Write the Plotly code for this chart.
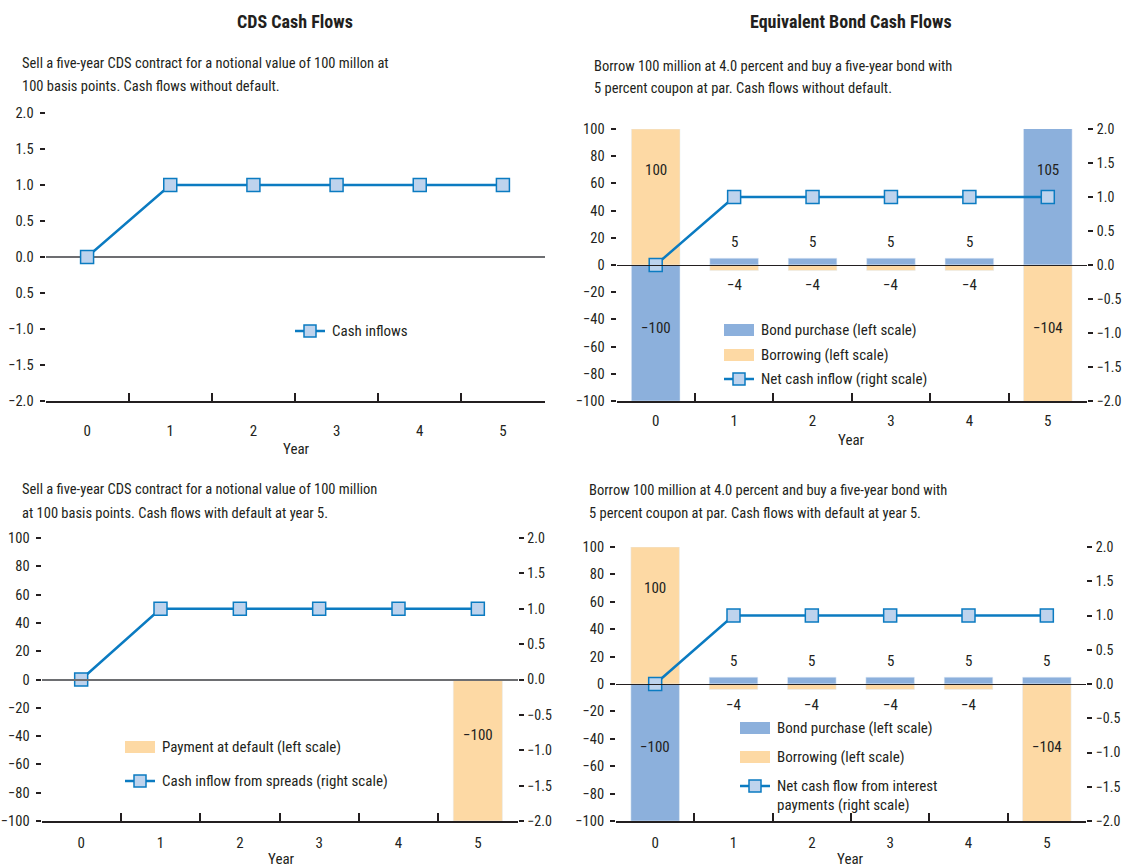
import plotly.graph_objects as go

W, H = 1123, 867
FONT = "Liberation Sans Narrow, Roboto Condensed, DejaVu Sans Condensed, Arial Narrow, sans-serif"
INK = "#231f20"
BLUE_BAR = "#8cb0dc"
ORANGE_BAR = "#fdd9a4"
LINE = "#0b7bc1"
MARKER_FILL = "#bed3ed"

# ---- data ----
years = ["0", "1", "2", "3", "4", "5"]

# CDS cash flows without default
cds_inflows = [0, 1, 1, 1, 1, 1]

# Bond cash flows without default
bond_purchase = [-100, 5, 5, 5, 5, 105]
borrowing = [100, -4, -4, -4, -4, -104]
net_cash_inflow = [0, 1, 1, 1, 1, 1]

# CDS cash flows with default at year 5
payment_at_default = [0, 0, 0, 0, 0, -100]
spread_inflow = [0, 1, 1, 1, 1, 1]

# Bond cash flows with default at year 5
bond_purchase_d = [-100, 5, 5, 5, 5, 5]
borrowing_d = [100, -4, -4, -4, -4, -104]
net_interest_flow = [0, 1, 1, 1, 1, 1]

# axis ticks
left_vals = [100, 80, 60, 40, 20, 0, -20, -40, -60, -80, -100]
left_text = [str(v).replace("-", "\u2212") for v in left_vals]
ratio_vals = [2.0, 1.5, 1.0, 0.5, 0.0, -0.5, -1.0, -1.5, -2.0]
ratio_text = [f"{v:.1f}".replace("-", "\u2212") for v in ratio_vals]
cds_text = ["2.0", "1.5", "1.0", "0.5", "0.0", "0.5", "\u22121.0", "\u22121.5", "\u22122.0"]


def px(p):
    return p / W


def py(p):
    return 1 - p / H


def fmt(v):
    return str(v).replace("-", "\u2212")


fig = go.Figure()

line_style = dict(color=LINE, width=2.5)
marker_style = dict(symbol="square", size=13, color=MARKER_FILL, line=dict(color=LINE, width=1.5))

# panel 1
fig.add_trace(go.Scatter(x=years, y=cds_inflows, mode="lines+markers", line=line_style,
                         marker=marker_style, xaxis="x", yaxis="y", name="Cash inflows"))
# panel 2
fig.add_trace(go.Bar(x=years, y=bond_purchase, marker_color=BLUE_BAR, xaxis="x2", yaxis="y3",
                     name="Bond purchase (left scale)"))
fig.add_trace(go.Bar(x=years, y=borrowing, marker_color=ORANGE_BAR, xaxis="x2", yaxis="y3",
                     name="Borrowing (left scale)"))
fig.add_trace(go.Scatter(x=years, y=net_cash_inflow, mode="lines+markers", line=line_style,
                         marker=marker_style, xaxis="x2", yaxis="y4", name="Net cash inflow (right scale)"))
# panel 3
fig.add_trace(go.Bar(x=years, y=payment_at_default, marker_color=ORANGE_BAR, xaxis="x3", yaxis="y5",
                     name="Payment at default (left scale)"))
fig.add_trace(go.Scatter(x=years, y=spread_inflow, mode="lines+markers", line=line_style,
                         marker=marker_style, xaxis="x3", yaxis="y6",
                         name="Cash inflow from spreads (right scale)"))
# panel 4
fig.add_trace(go.Bar(x=years, y=bond_purchase_d, marker_color=BLUE_BAR, xaxis="x4", yaxis="y7",
                     name="Bond purchase (left scale)"))
fig.add_trace(go.Bar(x=years, y=borrowing_d, marker_color=ORANGE_BAR, xaxis="x4", yaxis="y7",
                     name="Borrowing (left scale)"))
fig.add_trace(go.Scatter(x=years, y=net_interest_flow, mode="lines+markers", line=line_style,
                         marker=marker_style, xaxis="x4", yaxis="y8",
                         name="Net cash flow from interest payments (right scale)"))

tickfont = dict(family=FONT, size=15, color=INK)
left_tickfont = dict(family=FONT, size=14.5, color=INK)
right_tickfont = dict(family=FONT, size=14, color=INK)

try:
    go.layout.YAxis(zerolinelayer="above traces")
    ZL_ABOVE = dict(zerolinelayer="above traces")
except Exception:
    ZL_ABOVE = {}


def xaxis(domain, anchor, standoff):
    return dict(domain=[px(domain[0]), px(domain[1])], anchor=anchor, type="category",
                range=[-0.5, 5.5], autorange=False, automargin=False,
                tickson="boundaries", ticks="inside", ticklen=8, tickwidth=1.5, tickcolor=INK,
                showline=True, linecolor=INK, linewidth=1.5, showgrid=False, zeroline=False,
                tickfont=tickfont, ticklabelstandoff=standoff, fixedrange=True)


def yaxis(domain, anchor, rng, vals, text, side="left", overlay=None, labels=True,
          zero=False, zcolor=INK, zwidth=1, above=False):
    right = side == "right"
    d = dict(domain=[py(domain[1]), py(domain[0])], anchor=anchor, range=rng, tickmode="array",
             tickvals=vals, ticktext=text, ticks="outside", ticklen=5, tickwidth=1.5,
             tickcolor=INK, showline=False, showgrid=False, zeroline=zero, zerolinecolor=zcolor,
             zerolinewidth=zwidth, side=side, showticklabels=labels,
             tickfont=right_tickfont if right else left_tickfont, ticklabelstandoff=1 if right else 3,
             automargin=False, fixedrange=True)
    if overlay:
        d["overlaying"] = overlay
    if above:
        d.update(ZL_ABOVE)
    return d


P1 = dict(x=(45.5, 544.5), y=(113, 401))
P2 = dict(x=(616.5, 1087), y=(129, 401))
P3 = dict(x=(41.5, 517.5), y=(538, 821))
P4 = dict(x=(616, 1086), y=(547, 821))

fig.update_layout(
    width=W, height=H, margin=dict(l=0, r=0, t=0, b=0, pad=0, autoexpand=False),
    paper_bgcolor="white", plot_bgcolor="white", showlegend=False,
    barmode="relative", bargap=0.38,
    font=dict(family=FONT, size=15, color=INK),
    xaxis=xaxis(P1["x"], "y", 15),
    yaxis=yaxis(P1["y"], "x", [-2, 2], ratio_vals, cds_text, zero=True, zcolor="#6d6e71", zwidth=1.5),
    yaxis2=yaxis(P1["y"], "x", [-2, 2], ratio_vals, cds_text, side="right", overlay="y", labels=False),
    xaxis2=xaxis(P2["x"], "y3", 5),
    yaxis3=yaxis(P2["y"], "x2", [-100, 100], left_vals, left_text, zero=True, above=True),
    yaxis4=yaxis(P2["y"], "x2", [-2, 2], ratio_vals, ratio_text, side="right", overlay="y3"),
    xaxis3=xaxis(P3["x"], "y5", 7),
    yaxis5=yaxis(P3["y"], "x3", [-100, 100], left_vals, left_text, zero=True, zcolor="#6d6e71",
                 zwidth=1.5, above=True),
    yaxis6=yaxis(P3["y"], "x3", [-2, 2], ratio_vals, ratio_text, side="right", overlay="y5"),
    xaxis4=xaxis(P4["x"], "y7", 7),
    yaxis7=yaxis(P4["y"], "x4", [-100, 100], left_vals, left_text, zero=True, above=True),
    yaxis8=yaxis(P4["y"], "x4", [-2, 2], ratio_vals, ratio_text, side="right", overlay="y7"),
)

ann = []
shapes = []


def text(x, y, s, size=15, bold=False, xanchor="left"):
    ann.append(dict(x=px(x), y=py(y), xref="paper", yref="paper", text=f"<b>{s}</b>" if bold else s,
                    showarrow=False, xanchor=xanchor, yanchor="middle",
                    font=dict(family=FONT, size=size, color=INK)))


# headings
text(295, 21, "CDS Cash Flows", size=18, bold=True, xanchor="center")
text(851, 21, "Equivalent Bond Cash Flows", size=18, bold=True, xanchor="center")

# panel descriptions
SUB = 14.5
text(20, 63, "Sell a five-year CDS contract for a notional value of 100 millon at", size=SUB)
text(20, 87, "100 basis points. Cash flows without default.", size=SUB)
text(592, 66, "Borrow 100 million at 4.0 percent and buy a five-year bond with", size=SUB)
text(592, 88, "5 percent coupon at par. Cash flows without default.", size=SUB)
text(20, 489, "Sell a five-year CDS contract for a notional value of 100 million", size=SUB)
text(20, 513, "at 100 basis points. Cash flows with default at year 5.", size=SUB)
text(587, 490, "Borrow 100 million at 4.0 percent and buy a five-year bond with", size=SUB)
text(587, 513, "5 percent coupon at par. Cash flows with default at year 5.", size=SUB)

# x-axis titles
text(296, 449, "Year", xanchor="center")
text(851, 440, "Year", xanchor="center")
text(281, 859, "Year", xanchor="center")
text(850, 859, "Year", xanchor="center")


# value labels on bars
def label_y(v, low):
    if v >= 50:
        return 70
    if v <= -50:
        return low
    return v + 12 if v > 0 else v - 11


def bar_labels(values, xref, yref, low=-46):
    for yr, v in zip(years, values):
        if v:
            ann.append(dict(x=yr, y=label_y(v, low), xref=xref, yref=yref, text=fmt(v), showarrow=False,
                            xanchor="center", yanchor="middle",
                            font=dict(family=FONT, size=15, color=INK)))


bar_labels(bond_purchase, "x2", "y3")
bar_labels(borrowing, "x2", "y3")
bar_labels(payment_at_default, "x3", "y5", low=-39)
bar_labels(bond_purchase_d, "x4", "y7")
bar_labels(borrowing_d, "x4", "y7")


# legend keys
def key_rect(x0, yc, color, label, w=30, h=12):
    shapes.append(dict(type="rect", xref="paper", yref="paper", x0=px(x0), x1=px(x0 + w),
                       y0=py(yc + h / 2), y1=py(yc - h / 2), fillcolor=color, line=dict(width=0)))
    text(x0 + w + 5, yc, label)


def key_line(x0, yc, label, w=30):
    shapes.append(dict(type="line", xref="paper", yref="paper", x0=px(x0), x1=px(x0 + w),
                       y0=py(yc), y1=py(yc), line=dict(color=LINE, width=2.5)))
    c = x0 + w / 2
    shapes.append(dict(type="rect", xref="paper", yref="paper", x0=px(c - 6), x1=px(c + 6),
                       y0=py(yc + 6), y1=py(yc - 6), fillcolor=MARKER_FILL,
                       line=dict(color=LINE, width=1.5)))
    if label:
        text(x0 + w + 5, yc, label)


key_line(295, 331, "Cash inflows")

key_rect(724, 330, BLUE_BAR, "Bond purchase (left scale)")
key_rect(724, 355, ORANGE_BAR, "Borrowing (left scale)")
key_line(724, 379, "Net cash inflow (right scale)")

key_rect(125, 747, ORANGE_BAR, "Payment at default (left scale)")
key_line(125, 781, "Cash inflow from spreads (right scale)")

key_rect(740, 728, BLUE_BAR, "Bond purchase (left scale)")
key_rect(740, 757, ORANGE_BAR, "Borrowing (left scale)")
key_line(740, 786, "Net cash flow from interest")
text(775, 805, "payments (right scale)")

fig.update_layout(annotations=ann, shapes=shapes)

fig.write_html("out.html")
